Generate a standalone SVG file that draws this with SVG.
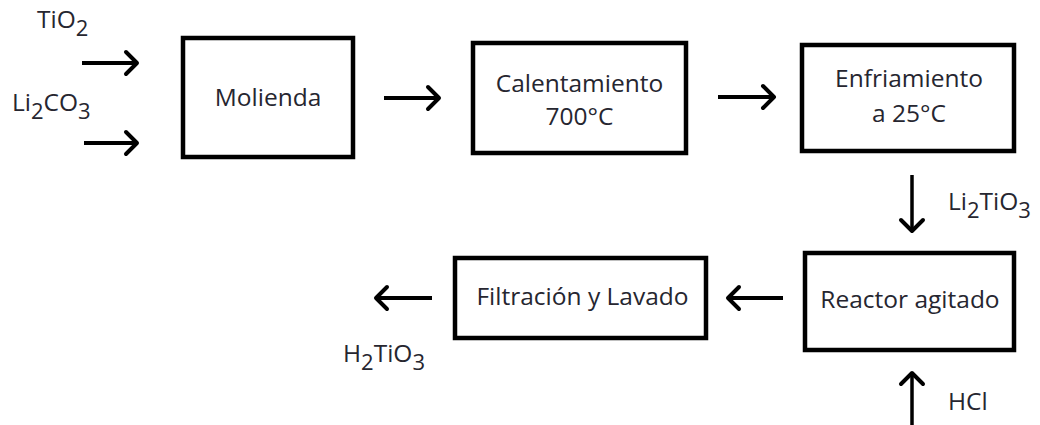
<svg xmlns="http://www.w3.org/2000/svg" width="1040" height="425" viewBox="0 0 1040 425">
<defs>
<style>
.box{fill:#fff;stroke:#000;stroke-width:4.5}
.t{font-family:"Open Sans","Liberation Sans",sans-serif;font-size:24.5px;fill:#262630}
.m{text-anchor:middle}
.sub{font-size:22px}
.ln{stroke:#000;stroke-width:4;fill:none}
.lv{stroke:#000;stroke-width:3.5;fill:none}
</style>
<marker id="ah" markerUnits="userSpaceOnUse" markerWidth="30" markerHeight="30" viewBox="-16 -15 20 30" refX="0" refY="0" orient="auto">
<path d="M-11,-11 L0,0 L-11,11" fill="none" stroke="#000" stroke-width="4" stroke-linecap="round" stroke-linejoin="round"/>
</marker>
</defs>
<rect width="1040" height="425" fill="#fff"/>
<g id="connectors">
<path class="ln" d="M82,63 H137" marker-end="url(#ah)"/>
<path class="ln" d="M84,143 H137" marker-end="url(#ah)"/>
<path class="ln" d="M384,98 H439" marker-end="url(#ah)"/>
<path class="ln" d="M718,97 H774" marker-end="url(#ah)"/>
<path class="lv" d="M912,175 V231" marker-end="url(#ah)"/>
<path class="ln" d="M783,298 H728" marker-end="url(#ah)"/>
<path class="ln" d="M432,298 H376" marker-end="url(#ah)"/>
<path class="lv" d="M912,425 V373" marker-end="url(#ah)"/>
</g>
<g id="label-tio2"><text class="t" x="37" y="28">TiO<tspan class="sub" dy="8">2</tspan></text></g>
<g id="label-li2co3"><text class="t" x="12" y="111">Li<tspan class="sub" dy="8">2</tspan><tspan dy="-8">CO</tspan><tspan class="sub" dy="8">3</tspan></text></g>
<g id="node-molienda">
<rect class="box" x="183" y="38" width="170" height="119"/>
<text class="t m" x="268" y="106">Molienda</text>
</g>
<g id="node-calentamiento">
<rect class="box" x="473" y="43" width="213" height="110"/>
<text class="t m" x="579.5" y="92">Calentamiento</text>
<text class="t m" x="579.5" y="125">700°C</text>
</g>
<g id="node-enfriamiento">
<rect class="box" x="802" y="45" width="212" height="106"/>
<text class="t m" x="909" y="87">Enfriamiento</text>
<text class="t m" x="909" y="122">a 25°C</text>
</g>
<g id="label-li2tio3"><text class="t" x="948" y="210">Li<tspan class="sub" dy="8">2</tspan><tspan dy="-8">TiO</tspan><tspan class="sub" dy="8">3</tspan></text></g>
<g id="node-reactor">
<rect class="box" x="805" y="253" width="209" height="97"/>
<text class="t m" x="910" y="308">Reactor agitado</text>
</g>
<g id="node-filtracion">
<rect class="box" x="455" y="258" width="251" height="80"/>
<text class="t m" x="582.5" y="305">Filtración y Lavado</text>
</g>
<g id="label-h2tio3"><text class="t" x="343" y="362">H<tspan class="sub" dy="8">2</tspan><tspan dy="-8">TiO</tspan><tspan class="sub" dy="8">3</tspan></text></g>
<g id="label-hcl"><text class="t" x="948" y="410">HCl</text></g>
</svg>
